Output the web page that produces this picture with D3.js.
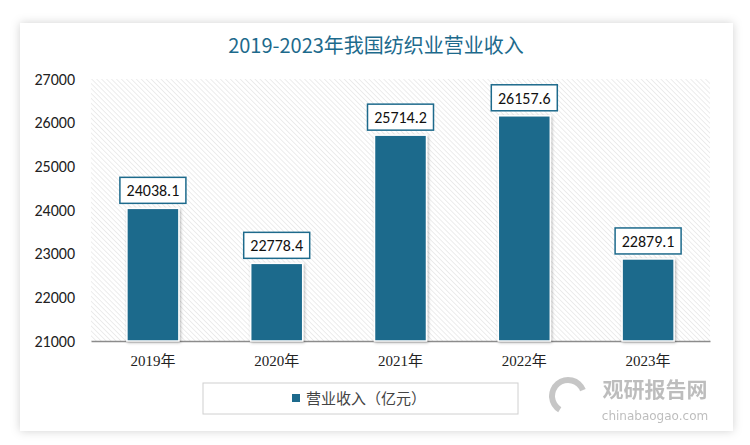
<!DOCTYPE html>
<html>
<head>
<meta charset="utf-8">
<script src="https://cdn.jsdelivr.net/npm/d3@7"></script>
<style>
  body { margin: 0; background: #fff; }
  svg { display: block; }
</style>
</head>
<body>
<div id="chart"></div>
<script>
// data
var years = ['2019年', '2020年', '2021年', '2022年', '2023年']
var revenue = [24038.1, 22778.4, 25714.2, 26157.6, 22879.1]
var yTicks = [21000, 22000, 23000, 24000, 25000, 26000, 27000]
var seriesName = '营业收入（亿元）'
var title = '2019-2023年我国纺织业营业收入'

var W = 750, H = 445
var barColor = '#1d6a8c'
var cjk = '"Noto Sans CJK SC", "Noto Sans", sans-serif'

var margin = {top: 79, right: 40, bottom: 104, left: 91}
var width = 710 - margin.left
var height = 341 - margin.top

var svg = d3.select('#chart').append('svg')
    .attr('width', W)
    .attr('height', H)

var defs = svg.append('defs')

// card shadow
var sh = defs.append('filter').attr('id', 'cardShadow')
    .attr('x', '-5%').attr('y', '-5%').attr('width', '110%').attr('height', '110%')
sh.append('feDropShadow').attr('dx', 0).attr('dy', 0).attr('stdDeviation', 5)
    .attr('flood-color', '#000').attr('flood-opacity', 0.18)

var bsh = defs.append('filter').attr('id', 'barShadow')
    .attr('x', '-20%').attr('y', '-10%').attr('width', '140%').attr('height', '120%')
bsh.append('feDropShadow').attr('dx', 1).attr('dy', 1).attr('stdDeviation', 1.5)
    .attr('flood-color', '#000').attr('flood-opacity', 0.3)

// hatch pattern for plot area
var pat = defs.append('pattern').attr('id', 'hatch')
    .attr('patternUnits', 'userSpaceOnUse')
    .attr('width', 3.5).attr('height', 3.5)
    .attr('patternTransform', 'rotate(-45)')
pat.append('rect').attr('width', 3.5).attr('height', 3.5).attr('fill', '#fff')
pat.append('line').attr('x1', 0).attr('y1', 0).attr('x2', 0).attr('y2', 3.5)
    .attr('stroke', '#dadada').attr('stroke-width', 1)

// card
svg.append('rect')
    .attr('x', 20).attr('y', 23).attr('width', 713).attr('height', 408)
    .attr('fill', '#fff')
    .attr('filter', 'url(#cardShadow)')

// title
svg.append('text')
    .attr('x', 376).attr('y', 53)
    .attr('text-anchor', 'middle')
    .attr('font-family', cjk)
    .attr('font-size', '20px')
    .attr('fill', barColor)
    .text(title)

var g = svg.append('g')
    .attr('transform', 'translate(' + margin.left + ',' + margin.top + ')')

var x = d3.scaleBand()
    .domain(years)
    .range([0, width])
    .paddingInner(0.58)
    .paddingOuter(0.29)

var y = d3.scaleLinear()
    .domain([21000, 27000])
    .range([height, 0])

g.append('rect')
    .attr('width', width).attr('height', height)
    .attr('fill', 'url(#hatch)')

// y axis labels
var yAxis = d3.axisLeft(y).tickValues(yTicks).tickSize(0).tickPadding(16)
    .tickFormat(d3.format('d'))
var ya = g.append('g').call(yAxis)
ya.select('.domain').remove()
ya.selectAll('text')
    .attr('font-family', 'Calibri, Carlito, "Liberation Sans", sans-serif')
    .attr('font-size', '16px')
    .attr('fill', '#222')

// x axis
var xAxis = d3.axisBottom(x).tickSize(0).tickPadding(14)
var xa = g.append('g').attr('transform', 'translate(0,' + height + ')').call(xAxis)
xa.select('.domain').attr('stroke', '#8c8c8c').attr('stroke-width', 1.5)
xa.selectAll('text')
    .attr('font-family', '"Liberation Serif", "Noto Sans CJK SC", serif')
    .attr('font-size', '15px')
    .attr('fill', '#222')

// bars
g.selectAll('.bar')
    .data(revenue)
  .enter().append('rect')
    .attr('class', 'bar')
    .attr('x', function(d, i) { return x(years[i]) })
    .attr('y', function(d) { return y(d) })
    .attr('width', x.bandwidth())
    .attr('height', function(d) { return height - y(d) })
    .attr('fill', barColor)
    .attr('stroke', '#fff')
    .attr('stroke-width', 1.5)
    .attr('filter', 'url(#barShadow)')

// value labels
var lab = g.selectAll('.lab')
    .data(revenue)
  .enter().append('g')
    .attr('class', 'lab')
    .attr('transform', function(d, i) {
      return 'translate(' + (x(years[i]) + x.bandwidth() / 2) + ',' + (y(d) - 18) + ')'
    })
lab.append('rect')
    .attr('x', -33).attr('y', -13)
    .attr('width', 66).attr('height', 26)
    .attr('fill', '#fff')
    .attr('stroke', barColor)
    .attr('stroke-width', 1.5)
lab.append('text')
    .attr('text-anchor', 'middle')
    .attr('dy', '0.36em')
    .attr('font-family', 'Calibri, Carlito, "Open Sans", sans-serif')
    .attr('font-size', '16px')
    .attr('fill', '#111')
    .text(function(d) { return d3.format('.1f')(d) })

// legend
var leg = svg.append('g')
leg.append('rect')
    .attr('x', 203).attr('y', 383).attr('width', 315).attr('height', 31)
    .attr('fill', '#fff')
    .attr('stroke', '#d0d0d0')
leg.append('rect')
    .attr('x', 292).attr('y', 394).attr('width', 8).attr('height', 8)
    .attr('fill', barColor)
leg.append('text')
    .attr('x', 306).attr('y', 404)
    .attr('font-family', cjk)
    .attr('font-size', '15px')
    .attr('fill', '#444')
    .text(seriesName)

// watermark
var wm = svg.append('g').attr('opacity', 0.55)
wm.append('text')
    .attr('x', 655).attr('y', 397)
    .attr('text-anchor', 'middle')
    .attr('font-family', cjk)
    .attr('font-weight', 'bold')
    .attr('font-size', '21px')
    .attr('fill', '#888')
    .text('观研报告网')
wm.append('text')
    .attr('x', 655).attr('y', 420)
    .attr('text-anchor', 'middle')
    .attr('font-family', '"DejaVu Sans", sans-serif')
    .attr('font-size', '12px')
    .attr('fill', '#888')
    .text('chinabaogao.com')
wm.append('path')
    .attr('d', d3.arc()({innerRadius: 13, outerRadius: 19, startAngle: -2.6, endAngle: 1.2}))
    .attr('transform', 'translate(568,396)')
    .attr('fill', '#999')
</script>
</body>
</html>
